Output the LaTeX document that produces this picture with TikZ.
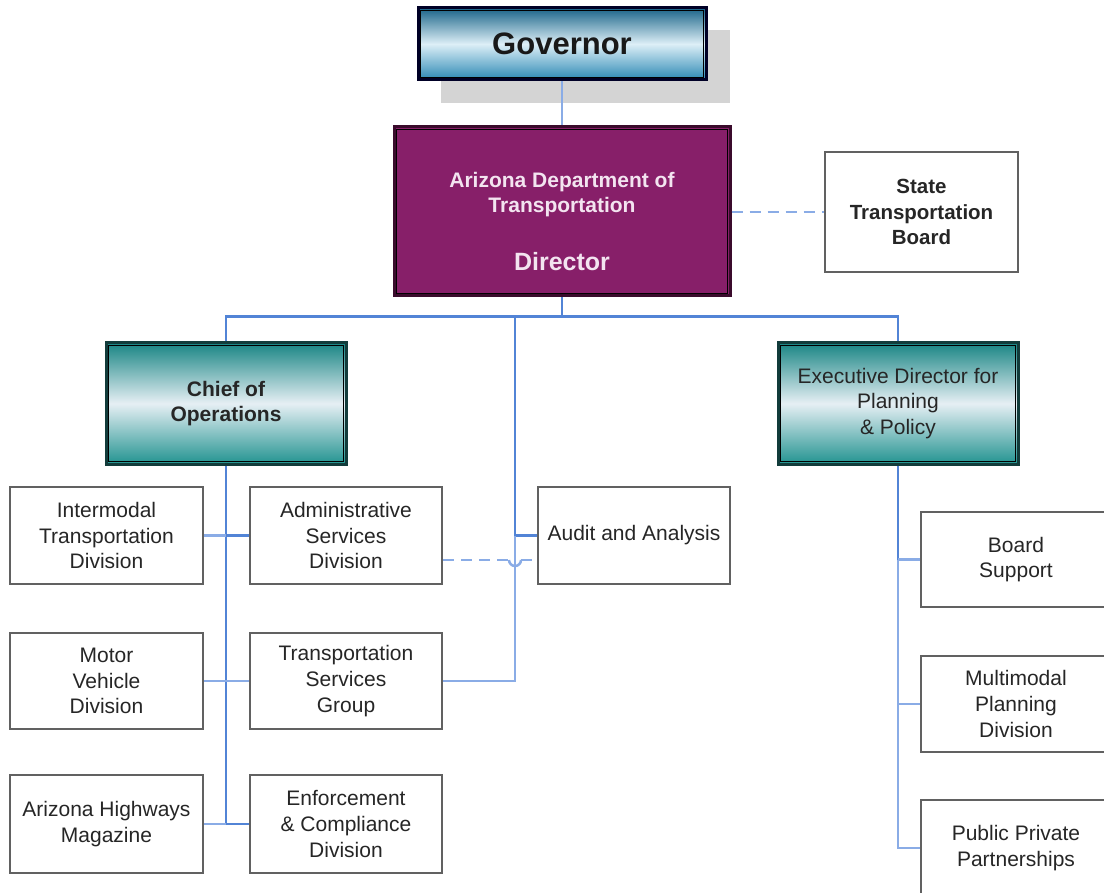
\documentclass[tikz,border=0pt]{standalone}
\usepackage{fontspec}
\setmainfont{Liberation Sans}
\begin{document}
\begin{tikzpicture}[x=1pt,y=-1pt,
  txt/.style={font=\fontsize{21}{25.7}\selectfont, align=center, text=black!85},
  plainbox/.style={txt, draw=black!62, line width=2.6pt, fill=white, inner sep=0pt},
  govbox/.style={draw=black!85!blue, line width=3pt, inner sep=0pt,
     top color=govtop, bottom color=govbot, middle color=govmid,
     font=\bfseries\fontsize{31}{36}\selectfont, text=black!90},
  tealbox/.style={draw=tealdark, line width=3pt, inner sep=0pt,
     top color=tealtop, bottom color=tealbot, middle color=tealmid, txt},
  dirbox/.style={draw=dirdark, line width=3pt, fill=dirfill, inner sep=0pt},
  link/.style={draw=linkblue, line width=2.5pt},
  linklight/.style={draw=linklight, line width=2.5pt},
  dashlink/.style={draw=linklight, line width=2.5pt, dash pattern=on 11pt off 7pt}
]
\definecolor{govtop}{HTML}{1A6488}
\definecolor{govmid}{HTML}{DDEFF7}
\definecolor{govbot}{HTML}{2A88B4}
\definecolor{tealtop}{HTML}{198584}
\definecolor{tealmid}{HTML}{E6EFF4}
\definecolor{tealbot}{HTML}{229390}
\definecolor{tealdark}{HTML}{123C3B}
\definecolor{dirfill}{HTML}{871F69}
\definecolor{dirdark}{HTML}{3A0B2C}
\definecolor{dirtext}{HTML}{F3E4F0}
\definecolor{linkblue}{HTML}{5284D6}
\definecolor{linklight}{HTML}{8AACE6}
\definecolor{shadowgray}{HTML}{D4D4D4}

\useasboundingbox (0,0) rectangle (1104,893);
\clip (0,0) rectangle (1104,893);

% shadow of governor
\fill[shadowgray] (441,30) rectangle (730,103);

% nodes
\node[govbox, minimum width=288, minimum height=72] (gov) at (562,44) {Governor};
\draw[black, line width=0.8pt] ([shift={(4,4)}]gov.north west) rectangle ([shift={(-4,-4)}]gov.south east);

\node[dirbox, minimum width=336, minimum height=169] (dir) at (562,211.5) {};
\draw[black, line width=0.8pt] ([shift={(4,4)}]dir.north west) rectangle ([shift={(-4,-4)}]dir.south east);
\node[font=\bfseries\fontsize{21}{25}\selectfont, text=dirtext, align=center] (dirtop) at (562,194.5) {Arizona Department of\\Transportation};
\node[font=\bfseries\fontsize{25}{30}\selectfont, text=dirtext] (dirname) at (562,262) {Director};

\node[plainbox, font=\bfseries\fontsize{20.5}{25.5}\selectfont, minimum width=193, minimum height=120] (stb) at (921.5,212) {State\\Transportation\\Board};

\node[tealbox, font=\bfseries\fontsize{21}{25.7}\selectfont, minimum width=240, minimum height=121] (chief) at (226,403.5) {Chief of\\Operations};
\draw[black, line width=0.8pt] ([shift={(4,4)}]chief.north west) rectangle ([shift={(-4,-4)}]chief.south east);

\node[tealbox, minimum width=240, minimum height=121] (exec) at (898,403.5) {Executive Director for\\Planning\\\& Policy};
\draw[black, line width=0.8pt] ([shift={(4,4)}]exec.north west) rectangle ([shift={(-4,-4)}]exec.south east);

\node[plainbox, minimum width=193, minimum height=97] (imt) at (106.5,535.5) {Intermodal\\Transportation\\Division};
\node[plainbox, minimum width=192, minimum height=97] (asd) at (346,535.5) {Administrative\\Services\\Division};
\node[plainbox, minimum width=192, minimum height=97] (aud) at (634,535.5) {Audit and Analysis};

\node[plainbox, minimum width=193, minimum height=96] (mvd) at (106.5,681) {Motor\\Vehicle\\Division};
\node[plainbox, minimum width=192, minimum height=96] (tsg) at (346,681) {Transportation\\Services\\Group};

\node[plainbox, minimum width=193, minimum height=98] (azh) at (106.5,824) {Arizona Highways\\Magazine};
\node[plainbox, minimum width=192, minimum height=98] (ecd) at (346,824) {Enforcement\\\& Compliance\\Division};

\node[plainbox, minimum width=190, minimum height=95] (bsp) at (1016,559.5) {Board\\Support};
\node[plainbox, minimum width=190, minimum height=96] (mpd) at (1016,704) {Multimodal\\Planning\\Division};
\node[plainbox, minimum width=190, minimum height=96] (ppp) at (1016,848) {Public Private\\Partnerships};

% connectors
\draw[linklight] (gov.south) -- (dir.north);
\draw[dashlink] (dir.east |- stb.west) -- (stb.west);

\coordinate (bus) at (562,318);
\coordinate (audtop) at (515,318);
\draw[link] (dir.south) -- (bus);
\draw[link] (chief.north) -- ++(0,-25) -| (exec.north);

\draw[link] (audtop) |- (aud.west);
\draw[linklight] (audtop |- aud.west) |- (tsg.east);

\draw[link] (chief.south) -- (chief.south |- azh.east);
\draw[linklight] (imt.east) -- (chief.south |- imt.east);
\draw[link] (chief.south |- asd.west) -- (asd.west);
\draw[linklight] (mvd.east) -- (tsg.west);
\draw[linklight] (azh.east) -- (chief.south |- azh.east);
\draw[link] (chief.south |- ecd.west) -- (ecd.west);

% dashed link with hop over the vertical line
\coordinate (hopa) at (509,560);
\coordinate (hopb) at (521,560);
\draw[dashlink] (asd.east |- hopa) -- (hopa);
\draw[linklight] (hopa) arc (180:0:6);
\draw[dashlink] (hopb) -- (aud.west |- hopb);

\draw[link] (exec.south) -- (exec.south |- bsp.west);
\draw[linklight] (exec.south |- bsp.west) |- (ppp.west);
\draw[linklight] (exec.south |- bsp.west) -- (bsp.west);
\draw[linklight] (exec.south |- mpd.west) -- (mpd.west);
\end{tikzpicture}
\end{document}
